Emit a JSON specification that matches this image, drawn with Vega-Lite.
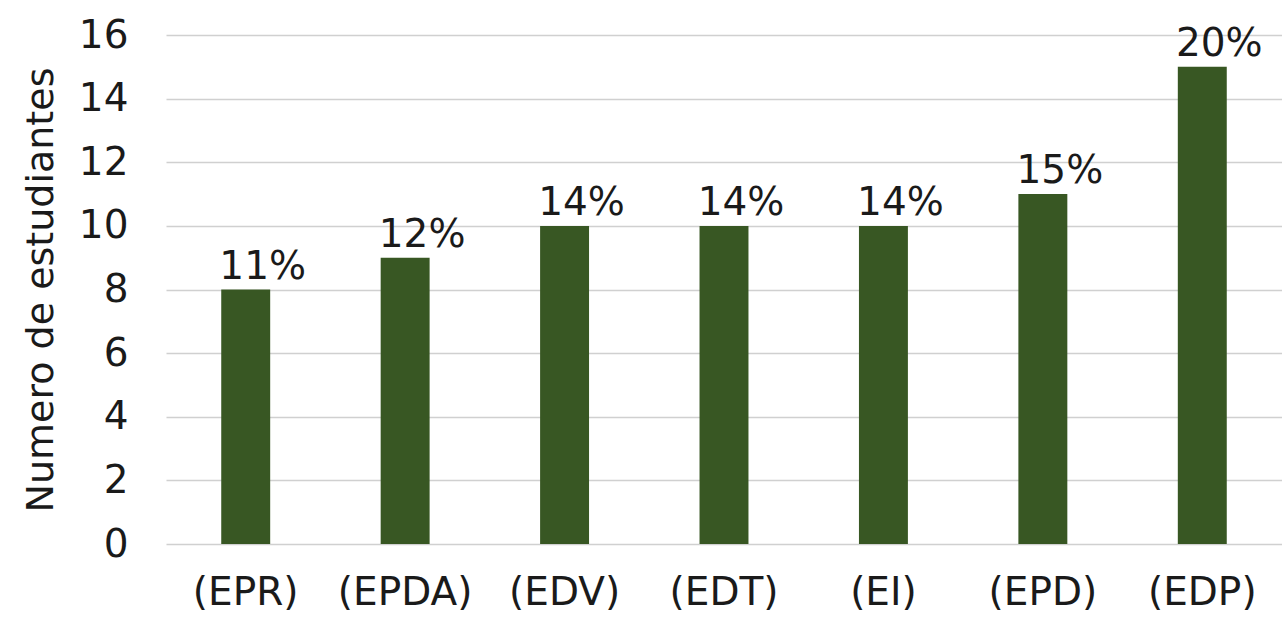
{
  "$schema": "https://vega.github.io/schema/vega-lite/v6.json",
  "autosize": {"type": "none"},
  "width": 1116,
  "height": 509,
  "padding": {"left": 166, "top": 35, "right": 0, "bottom": 75},
  "background": "white",
  "config": {
    "view": {"stroke": null},
    "font": "DejaVu Sans"
  },
  "data": {
    "values": [
      {"grupo": "(EPR)", "estudiantes": 8, "pct": "11%"},
      {"grupo": "(EPDA)", "estudiantes": 9, "pct": "12%"},
      {"grupo": "(EDV)", "estudiantes": 10, "pct": "14%"},
      {"grupo": "(EDT)", "estudiantes": 10, "pct": "14%"},
      {"grupo": "(EI)", "estudiantes": 10, "pct": "14%"},
      {"grupo": "(EPD)", "estudiantes": 11, "pct": "15%"},
      {"grupo": "(EDP)", "estudiantes": 15, "pct": "20%"}
    ]
  },
  "encoding": {
    "x": {
      "field": "grupo",
      "type": "nominal",
      "sort": null,
      "scale": {"paddingInner": 0.693, "paddingOuter": 0.3465},
      "axis": {
        "title": null,
        "labelAngle": 0,
        "labelFont": "DejaVu Sans",
        "labelFontSize": 39,
        "labelColor": "#1a1a1a",
        "labelPadding": 29,
        "ticks": false,
        "tickSize": 0,
        "domain": false,
        "grid": false
      }
    },
    "y": {
      "field": "estudiantes",
      "type": "quantitative",
      "scale": {"domain": [0, 16], "nice": false},
      "axis": {
        "title": "Numero de estudiantes",
        "titleFont": "DejaVu Sans",
        "titleFontSize": 38,
        "titleFontWeight": "normal",
        "titleColor": "#1a1a1a",
        "titlePadding": 18,
        "values": [0, 2, 4, 6, 8, 10, 12, 14, 16],
        "labelFont": "DejaVu Sans",
        "labelFontSize": 39,
        "labelColor": "#1a1a1a",
        "labelPadding": 38,
        "ticks": false,
        "tickSize": 0,
        "domain": false,
        "grid": true,
        "gridColor": "#d0d0d0",
        "gridWidth": 1.5
      }
    }
  },
  "layer": [
    {
      "mark": {"type": "bar", "color": "#385723"}
    },
    {
      "mark": {
        "type": "text",
        "baseline": "alphabetic",
        "dx": 17,
        "dy": -11,
        "font": "DejaVu Sans",
        "fontSize": 39,
        "color": "#1a1a1a"
      },
      "encoding": {
        "text": {"field": "pct"}
      }
    }
  ]
}
